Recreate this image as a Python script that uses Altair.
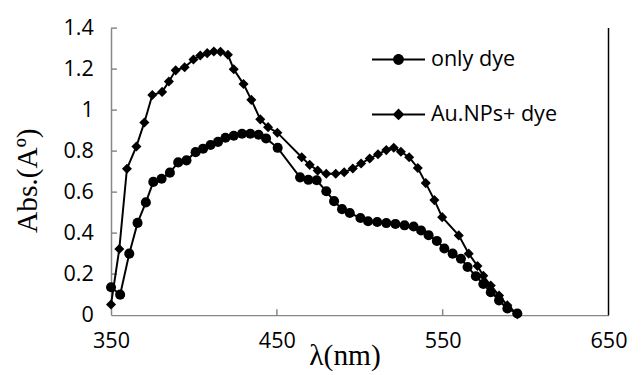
import altair as alt
import pandas as pd

# ---- data ----
dye_nm = [350, 355.5, 361, 366, 371, 375.5, 380.5, 385.5, 390.5, 395.5, 401, 405.5,
          410, 414.5, 419, 424, 429, 434, 439, 443.5, 450.5, 464, 469, 474, 479.8,
          484.5, 489.3, 494, 500.4, 505, 510.5, 516, 521.5, 527, 532.5, 537, 541.5,
          546.5, 551, 556, 561, 565, 570, 574.5, 579, 584, 589, 595]
dye_abs = [0.136, 0.10, 0.30, 0.45, 0.55, 0.65, 0.665, 0.695, 0.745, 0.755, 0.795,
           0.812, 0.83, 0.845, 0.865, 0.875, 0.885, 0.885, 0.88, 0.862, 0.816, 0.672,
           0.66, 0.658, 0.604, 0.556, 0.517, 0.498, 0.474, 0.458, 0.454, 0.449, 0.445,
           0.438, 0.432, 0.413, 0.39, 0.362, 0.325, 0.30, 0.275, 0.235, 0.19, 0.152,
           0.112, 0.072, 0.032, 0.008]

au_nm = [350, 355, 359.6, 365.3, 370.1, 374.9, 380.8, 384.9, 389, 394.4, 399.7, 403.8,
         408, 412, 416, 420.5, 424, 429.9, 434.6, 440, 444.7, 450.3, 465, 469.8, 474.6,
         479.8, 485.5, 490.6, 495.8, 500.8, 506, 511, 516, 520.5, 524.8, 529.8, 535,
         539.8, 545, 549.7, 559.7, 565.7, 571, 574.5, 579, 584, 589, 595]
au_abs = [0.052, 0.323, 0.714, 0.823, 0.94, 1.074, 1.089, 1.14, 1.194, 1.209, 1.247,
          1.266, 1.278, 1.286, 1.285, 1.27, 1.199, 1.127, 1.05, 0.955, 0.917, 0.89,
          0.77, 0.733, 0.705, 0.69, 0.69, 0.697, 0.715, 0.74, 0.764, 0.785, 0.805,
          0.816, 0.797, 0.77, 0.718, 0.644, 0.561, 0.478, 0.389, 0.30, 0.24, 0.192,
          0.144, 0.096, 0.048, 0.005]

series_names = ["only dye", "Au.NPs+ dye"]
x_ticks = [350, 450, 550, 650]
y_ticks = [0, 0.2, 0.4, 0.6, 0.8, 1.0, 1.2, 1.4]

df = pd.concat([
    pd.DataFrame({"nm": dye_nm, "abs": dye_abs, "series": series_names[0]}),
    pd.DataFrame({"nm": au_nm, "abs": au_abs, "series": series_names[1]}),
])

W, H = 507, 292.5
GRAY = "#868686"
FONT = "Open Sans"
SERIF = "Liberation Serif"
LABEL_SIZE = 22

xscale = alt.Scale(domain=[350, 650], nice=False, zero=False)
yscale = alt.Scale(domain=[0, 1.4], nice=False)

# legend glyphs: a bar (line) with the series marker in its middle
circle_path = ("M-2.7,-0.1H2.7V0.1H-2.7Z"
               "M0.55,0A0.55,0.55,0,1,1,-0.55,0A0.55,0.55,0,1,1,0.55,0Z")
diamond_path = "M-2.7,-0.1H2.7V0.1H-2.7ZM0,-0.6L0.6,0L0,0.6L-0.6,0Z"

base = alt.Chart(df)

lines = base.mark_line(color="black", strokeWidth=2).encode(
    x=alt.X("nm:Q", scale=xscale,
            axis=alt.Axis(values=x_ticks, format="d", title="λ(nm)",
                          titleFont=SERIF, titleFontSize=30, titleFontWeight="normal",
                          titleX=238, titleY=50, titleBaseline="alphabetic",
                          titleAlign="center", labelPadding=16, labelFlush=False,
                          labelBound=False)),
    y=alt.Y("abs:Q", scale=yscale,
            axis=alt.Axis(values=y_ticks, format="~g", title="Abs.(Aº)",
                          titleFont=SERIF, titleFontSize=30, titleFontWeight="normal",
                          titleX=-76, titleY=155, titleBaseline="alphabetic",
                          titleAlign="center", titleAngle=270,
                          labelPadding=18, labelFlush=False)),
    detail="series:N",
)

points = base.mark_point(filled=True, opacity=1, color="black").encode(
    x=alt.X("nm:Q", scale=xscale),
    y=alt.Y("abs:Q", scale=yscale),
    shape=alt.Shape("series:N",
                    scale=alt.Scale(domain=series_names, range=["circle", "diamond"]),
                    legend=None),
    size=alt.value(105),
)

legend_layer = base.transform_filter("false").mark_point(
    fill="black", stroke="black", strokeWidth=0, opacity=1
).encode(
    x=alt.X("nm:Q", scale=xscale),
    y=alt.Y("abs:Q", scale=yscale),
    shape=alt.Shape(
        "series:N",
        scale=alt.Scale(domain=series_names, range=[circle_path, diamond_path]),
        legend=alt.Legend(
            orient="none", legendX=282, legendY=21, title=None,
            symbolSize=400, symbolFillColor="black", symbolStrokeWidth=0,
            symbolOpacity=1, labelOffset=22, rowPadding=34,
            labelFont=FONT, labelFontSize=LABEL_SIZE, labelColor="black",
            padding=0,
        ),
    ),
)

xt = pd.DataFrame({"v": x_ticks[1:3]})
yt = pd.DataFrame({"v": y_ticks[1:]})
xtick_rules = alt.Chart(xt).mark_rule(color=GRAY, strokeWidth=1.5).encode(
    x=alt.X("v:Q", scale=xscale), y=alt.value(H), y2=alt.value(H - 6))
ytick_rules = alt.Chart(yt).mark_rule(color=GRAY, strokeWidth=1.5).encode(
    y=alt.Y("v:Q", scale=yscale), x=alt.value(0), x2=alt.value(6))
right_edge = alt.Chart(pd.DataFrame({"v": x_ticks[-1:]})).mark_rule(
    color="black", strokeWidth=1.5).encode(
    x=alt.X("v:Q", scale=xscale), y=alt.value(0), y2=alt.value(H))

chart = alt.layer(xtick_rules, ytick_rules, right_edge, lines, points,
                  legend_layer).resolve_scale(shape="independent").properties(
    width=W, height=H,
    padding={"left": 105, "top": 17, "right": 27, "bottom": 57},
    autosize=alt.AutoSizeParams(type="none"),
).configure_view(stroke=None).configure_axis(
    grid=False, ticks=False, domainColor=GRAY, domainWidth=1.5,
    labelFont=FONT, labelFontSize=LABEL_SIZE, labelColor="black", titleColor="black",
)

chart.save("out.html", embed_options={"renderer": "svg", "actions": False})
